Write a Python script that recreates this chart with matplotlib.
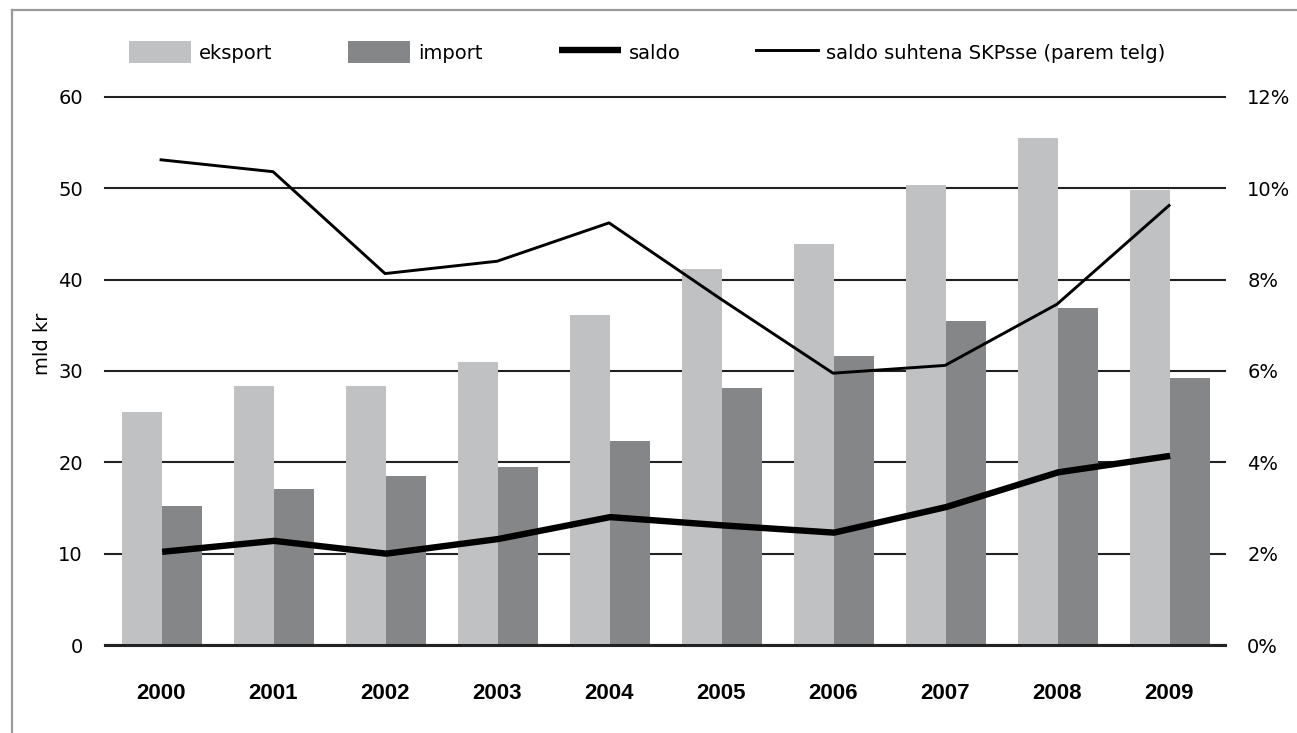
import matplotlib
matplotlib.use("Agg")
import matplotlib.pyplot as plt
from matplotlib.lines import Line2D
from matplotlib.ticker import FuncFormatter
import numpy as np

# data
years = ["2000", "2001", "2002", "2003", "2004", "2005", "2006", "2007", "2008", "2009"]
eksport = [25.5, 28.4, 28.4, 31.0, 36.1, 41.1, 43.9, 50.3, 55.5, 49.8]
imports = [15.2, 17.1, 18.5, 19.5, 22.3, 28.1, 31.6, 35.5, 36.9, 29.2]
saldo = [10.2, 11.4, 10.0, 11.6, 14.0, 13.1, 12.3, 15.1, 18.9, 20.7]
saldo_pct = [10.62, 10.36, 8.13, 8.40, 9.24, 7.57, 5.95, 6.12, 7.46, 9.62]

left_ticks = [0, 10, 20, 30, 40, 50, 60]
right_ticks = [0, 2, 4, 6, 8, 10, 12]

light = "#c0c1c3"
dark = "#858688"
grid_col = "#222222"

plt.rcParams["font.family"] = ["DejaVu Sans"]
plt.rcParams["font.size"] = 14

fig = plt.figure(figsize=(12.97, 7.33), dpi=100)
ax = fig.add_axes([0.081, 0.120, 0.8635, 0.748])

x = np.arange(len(years))
w = 0.36
ax.bar(x - w / 2 + 0.01, eksport, width=w, color=light, label="eksport", zorder=2)
ax.bar(x + w / 2 + 0.01, imports, width=w, color=dark, label="import", zorder=2)
ax.plot(x + 0.01, saldo, color="black", lw=4.6, solid_joinstyle="round",
        solid_capstyle="butt", zorder=4, label="saldo")

ax.set_xlim(-0.5, len(years) - 0.5)
ax.set_ylim(0, 60)
ax.set_yticks(left_ticks)
ax.set_xticks(x)
ax.set_xticklabels(years, fontfamily="Liberation Sans", fontweight="bold", fontsize=16)
ax.yaxis.grid(True, color=grid_col, lw=1.5, zorder=0)
for gl in ax.get_ygridlines():
    gl.set_clip_on(False)
ax.set_axisbelow(True)
ax.tick_params(axis="both", length=0)
ax.tick_params(axis="y", pad=16)
ax.tick_params(axis="x", pad=27)
for s in ["top", "left", "right"]:
    ax.spines[s].set_visible(False)
ax.spines["bottom"].set_color(grid_col)
ax.spines["bottom"].set_linewidth(2.2)
ax.spines["bottom"].set_zorder(5)
ax.set_ylabel("mld kr")
ax.yaxis.set_label_coords(-0.047, 0.55)

ax2 = ax.twinx()
ax2.plot(x, saldo_pct, color="black", lw=2.1, solid_joinstyle="round",
         label="saldo suhtena SKPsse (parem telg)")
ax2.set_ylim(0, 12)
ax2.set_yticks(right_ticks)
ax2.yaxis.set_major_formatter(FuncFormatter(lambda v, p: f"{v:.0f}%"))
ax2.tick_params(axis="y", length=0, pad=16)
for s in ["top", "left", "right", "bottom"]:
    ax2.spines[s].set_visible(False)

h1, l1 = ax.get_legend_handles_labels()
h2, l2 = ax2.get_legend_handles_labels()
handles = [h1[1], h1[2], h1[0], h2[0]]
labels = [l1[1], l1[2], l1[0], l2[0]]
fig.legend(handles, labels, loc="center", bbox_to_anchor=(0.499, 0.929), ncol=4,
           frameon=False, handlelength=3.2, handleheight=1.35, handletextpad=0.4,
           columnspacing=3.9, fontsize=14)

# grey frame on the left and top edges
fig.add_artist(Line2D([12 / 1297, 12 / 1297], [0, 1 - 10 / 733], color="#9a9a9a",
                      lw=1.6, transform=fig.transFigure))
fig.add_artist(Line2D([12 / 1297, 1], [1 - 10 / 733, 1 - 10 / 733], color="#9a9a9a",
                      lw=1.6, transform=fig.transFigure))

fig.savefig("out.png", dpi=100)
